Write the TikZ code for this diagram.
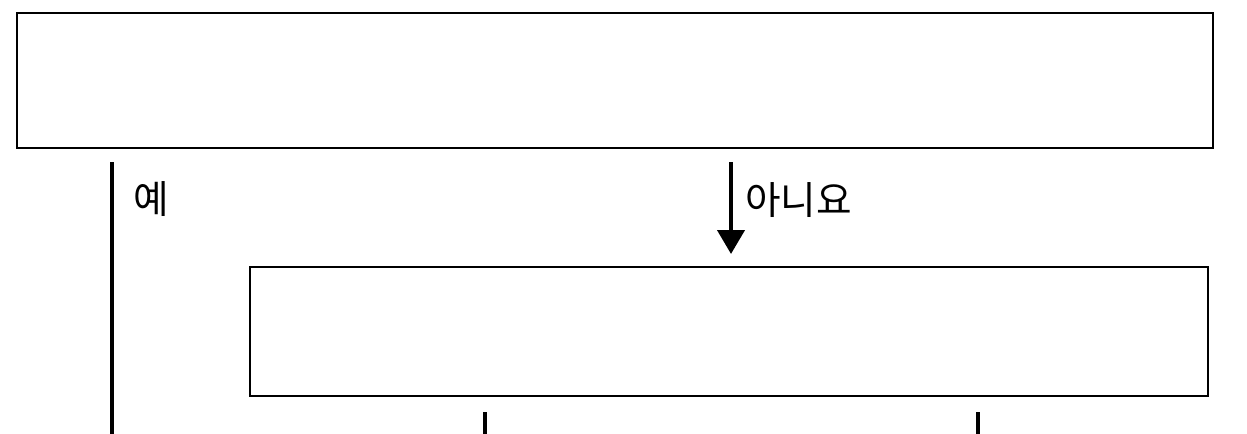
\documentclass[tikz,border=0pt]{standalone}
\usepackage{fontspec}
\newfontfamily\krfont{Noto Sans CJK KR}
\usetikzlibrary{arrows.meta,positioning,calc}
\tikzset{
	block/.style = {draw, thick, fill=white, rectangle, line width=1.1pt, inner sep=0pt},
	tmp/.style  = {coordinate},
	flow/.style = {line width=2.4pt},
	answer/.style = {anchor=west, inner sep=0pt, font=\krfont\fontsize{22}{26}\selectfont}
}

\begin{document}
\begin{tikzpicture}[x=0.02cm, y=-0.02cm, >={Triangle[width=0.54cm,length=0.48cm]}]
	\useasboundingbox (0,0) rectangle (1247,433);
	% ========================== Nodes ============================
	% question boxes
	\node [block, minimum width=23.92cm, minimum height=2.7cm] (question1) at (615,80.5) {};
	\node [block, minimum width=19.16cm, minimum height=2.58cm] (question2) at (729,331.5) {};

	% branch points
	\node [tmp] (yesstart) at (112,162) {};
	\node [tmp] (yesend) at (112,440) {};
	\node [tmp] (nostart) at (731,162) {};
	\node [tmp] (noend) at (731,254) {};
	\node [tmp] (yes2start) at (485,412) {};
	\node [tmp] (yes2end) at (485,440) {};
	\node [tmp] (no2start) at (978,412) {};
	\node [tmp] (no2end) at (978,440) {};

	% labels
	\node [answer] (yeslabel) at (133,199) {예};
	\node [answer] (nolabel) at (745,200) {아니요};

	% ========================== Lines ============================
	\draw [flow] (yesstart) -- (yesend);
	\draw [flow, ->] (nostart) -- (noend);
	\draw [flow] (yes2start) -- (yes2end);
	\draw [flow] (no2start) -- (no2end);
\end{tikzpicture}
\end{document}
